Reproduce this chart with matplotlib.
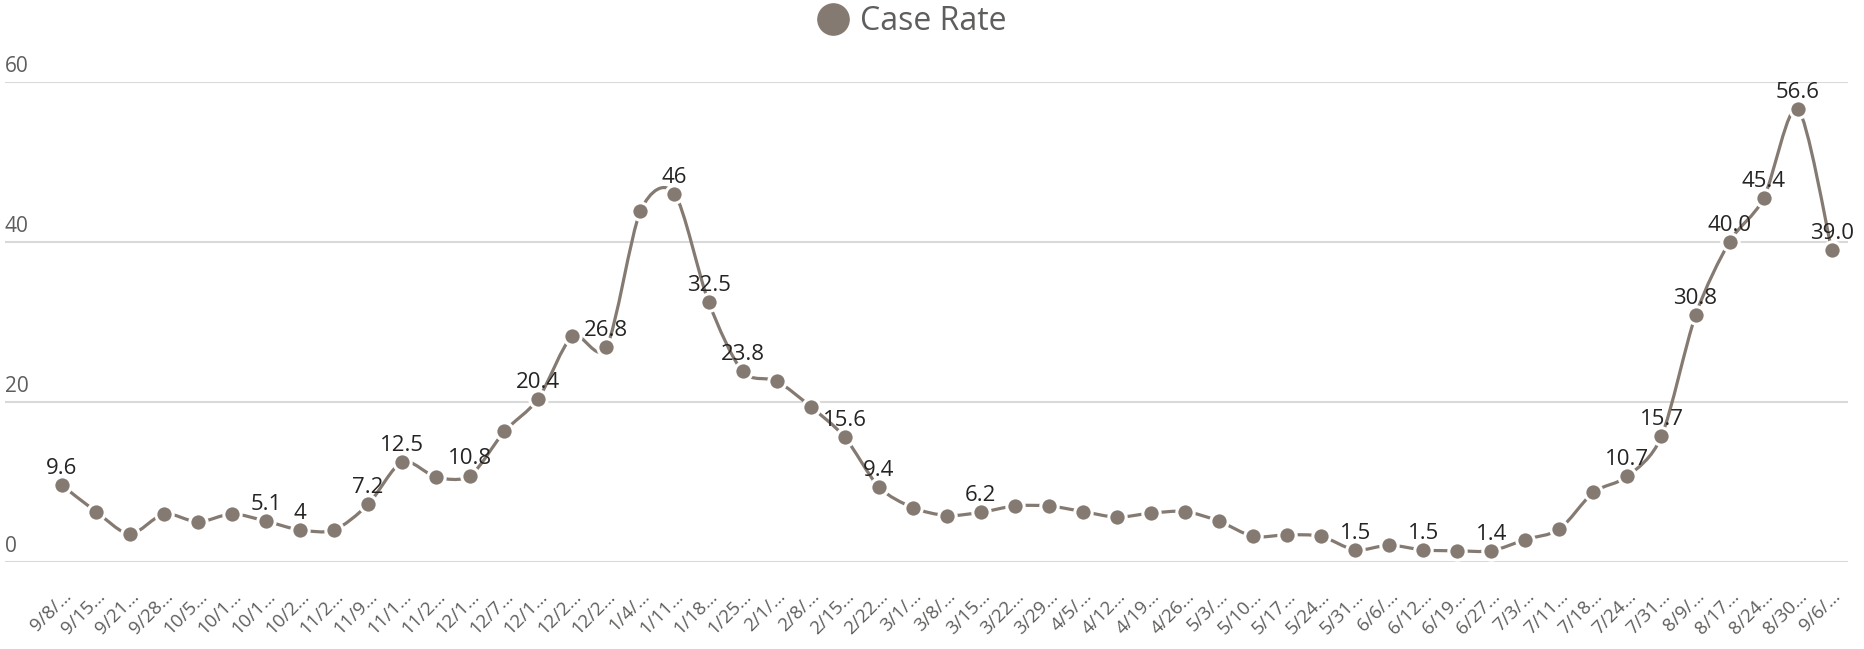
import matplotlib
matplotlib.use("Agg")
import matplotlib.pyplot as plt
from matplotlib.path import Path
from matplotlib.patches import PathPatch
from matplotlib.lines import Line2D
import numpy as np

# data
week_labels = ["9/8/…", "9/15…", "9/21…", "9/28…", "10/5…", "10/1…", "10/1…", "10/2…",
               "11/2…", "11/9…", "11/1…", "11/2…", "12/1…", "12/7…", "12/1…", "12/2…",
               "12/2…", "1/4/…", "1/11…", "1/18…", "1/25…", "2/1/…", "2/8/…", "2/15…",
               "2/22…", "3/1/…", "3/8/…", "3/15…", "3/22…", "3/29…", "4/5/…", "4/12…",
               "4/19…", "4/26…", "5/3/…", "5/10…", "5/17…", "5/24…", "5/31…", "6/6/…",
               "6/12…", "6/19…", "6/27…", "7/3/…", "7/11…", "7/18…", "7/24…", "7/31…",
               "8/9/…", "8/17…", "8/24…", "8/30…", "9/6/…"]
case_rate = [9.6, 6.3, 3.5, 6.0, 5.0, 6.0, 5.1, 4.0, 4.0, 7.2, 12.5, 10.6, 10.8, 16.3,
             20.4, 28.2, 26.8, 43.8, 46.0, 32.5, 23.8, 22.6, 19.4, 15.6, 9.4, 6.8, 5.8,
             6.2, 7.0, 7.0, 6.3, 5.6, 6.1, 6.3, 5.1, 3.2, 3.4, 3.2, 1.5, 2.1, 1.5, 1.4,
             1.4, 2.8, 4.1, 8.7, 10.7, 15.7, 30.8, 40.0, 45.4, 56.6, 39.0]
# which points carry a data label (text as shown)
point_labels = {0: "9.6", 6: "5.1", 7: "4", 9: "7.2", 10: "12.5", 12: "10.8", 14: "20.4",
                16: "26.8", 18: "46", 19: "32.5", 20: "23.8", 23: "15.6", 24: "9.4",
                27: "6.2", 38: "1.5", 40: "1.5", 42: "1.4", 46: "10.7", 47: "15.7",
                48: "30.8", 49: "40.0", 50: "45.4", 51: "56.6", 52: "39.0"}
y_ticks = [0, 20, 40, 60]

color = "#857a71"
fam = ["Open Sans", "DejaVu Sans"]
plt.rcParams["font.family"] = fam

fig = plt.figure(figsize=(18.65, 6.49), dpi=100)
ax = fig.add_axes([5 / 1865, 1 - 562 / 649, 1843 / 1865, 480.5 / 649])

x = np.arange(len(case_rate))
y = np.array(case_rate)

# smoothed line like excel (catmull-rom -> bezier)
verts = [(x[0], y[0])]
codes = [Path.MOVETO]
n = len(x)
k = 7.0
for i in range(n - 1):
    p0 = np.array([x[max(i - 1, 0)], y[max(i - 1, 0)]])
    p1 = np.array([x[i], y[i]])
    p2 = np.array([x[i + 1], y[i + 1]])
    p3 = np.array([x[min(i + 2, n - 1)], y[min(i + 2, n - 1)]])
    c1 = p1 + (p2 - p0) / k
    c2 = p2 - (p3 - p1) / k
    verts += [tuple(c1), tuple(c2), tuple(p2)]
    codes += [Path.CURVE4] * 3
ax.add_patch(PathPatch(Path(verts, codes), fill=False, edgecolor=color, lw=2.3,
                       transform=ax.transData, zorder=3, capstyle="round"))
ax.plot(x, y, ls="none", marker="o", ms=12.5, mfc=color, mec="white", mew=2.2,
        zorder=4, clip_on=False)

for i, txt in point_labels.items():
    ax.annotate(txt, (x[i], y[i]), xytext=(0, 8), textcoords="offset points",
                ha="center", va="baseline", fontsize=16, color="#252423", zorder=5)

ax.set_xlim(-1.67, 52.48)
ax.set_ylim(0, 60)
for v in y_ticks:
    ax.axhline(v, color="#d9d9d9", lw=1.5, zorder=1)
    ax.annotate(str(v), (0, v), xycoords=("axes fraction", "data"), xytext=(0, 7),
                textcoords="offset points", ha="left", va="baseline",
                fontsize=15, color="#605e5c")
ax.set_yticks([])
ax.set_xticks(x)
ax.set_xticklabels(week_labels, rotation=45, ha="right", rotation_mode="anchor",
                   fontsize=13.5, color="#605e5c")
ax.tick_params(axis="x", length=0, pad=18)
for s in ax.spines.values():
    s.set_visible(False)

handle = Line2D([], [], ls="none", marker="o", ms=22.5, mfc=color, mec=color)
fig.legend([handle], ["Case Rate"], loc="center", bbox_to_anchor=(0.4885, 1 - 22 / 649),
           frameon=False, fontsize=23, labelcolor="#605e5c", handletextpad=0.3,
           borderpad=0, handlelength=1.1)

fig.savefig("out.png", dpi=100, facecolor="white")
